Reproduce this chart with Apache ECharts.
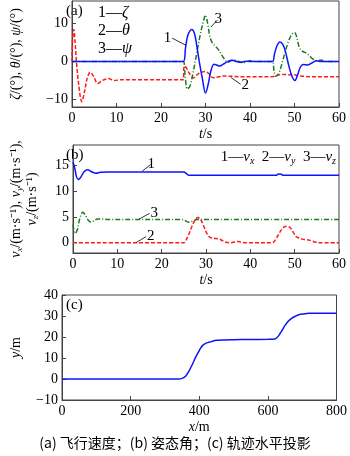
<!DOCTYPE html>
<html><head><meta charset="utf-8">
<script src="https://cdn.jsdelivr.net/npm/echarts@6/dist/echarts.min.js"></script>
<style>html,body{margin:0;padding:0;background:#fff}#c{width:350px;height:456px}</style>
</head><body><div id="c"></div>
<script>
// ---- Panel (a): attitude angles (deg) vs t (s)
const tZeta = [0,25,25.5,26,26.9,27.5,28,28.6,29.3,30.0,30.6,31.2,31.9,32.5,33.2,34,35,36,37,38,39,40,42,45,45.5,46,46.7,47.4,48,48.7,49.4,50.1,50.7,51.3,52,53,54,55,56,57,58,60];
const zeta  = [0,0,3.5,6.8,8.5,7.5,4.5,0,-4.5,-8.3,-6,-2.5,-0.7,-0.9,-1.2,-0.7,0,0.35,0,-0.2,0.1,0,0,0,2.0,4.0,5.2,4.5,2.5,-1,-3.8,-5.0,-3.5,-1.5,-0.8,-0.9,-0.3,0.2,0,0,0,0];
const tPsi = [0,25,25.4,25.9,26.5,27.2,28,28.8,29.5,30,30.5,31,31.6,32.3,33,33.6,34.3,35,35.7,36.5,37.5,38.5,40,42,45,45.4,45.8,46.5,47.3,48,48.7,49.3,50,50.5,51,51.5,52,52.7,53.4,54,55,56,57,58,60];
const psi  = [0,0,-3.5,-7.2,-6.5,-3,2,7,10.5,12.3,10,6.5,4.8,4.0,3.0,1.8,0.6,-0.2,0.2,0.4,0.0,-0.3,0.2,0,0,-2.5,-3.9,-3,0,3,5.5,7,7.7,6.5,4,3,2.6,2.2,1.5,0.8,0.2,0.4,0,0,0];
const tTheta = [0,0.15,0.4,0.7,1.0,1.5,2.2,2.8,3.4,4.1,4.8,5.8,6.8,8.2,9.5,11,25,25.2,25.6,26.3,27.3,28.3,29.9,31,31.7,33,34,36,38,40,45,46,47,48,49,50,51,52,54,56,60];
const theta  = [0,6,8.5,5,0,-6,-10.6,-8,-4.5,-2.8,-3.8,-5.8,-5.0,-4.5,-5,-4.8,-4.8,-1.2,-1.5,-3.0,-4.3,-3.3,-2.6,-3.5,-4.3,-4.0,-3.8,-3.9,-4.0,-4.0,-4.0,-3.7,-3.4,-3.4,-3.5,-3.5,-3.8,-3.9,-4.0,-4.0,-4.0];

// ---- Panel (b): velocities (m/s) vs t (s)
const tVx = [0,0.4,0.8,1.2,1.8,2.5,3.3,4.2,5.2,6.2,8,25,25.5,26,26.5,45.8,46.2,46.6,47,47.4,60];
const vx  = [15.7,14.5,12.8,12.3,12.8,13.8,14.2,13.8,13.5,13.7,13.75,13.75,13.5,13.15,13.1,13.1,13.3,13.35,13.3,13.1,13.1];
const tVz = [0,0.25,0.5,1.0,1.5,2.2,2.9,3.5,4.1,4.8,5.5,6.5,8,25,25.5,26,26.7,27.5,28,60];
const vz  = [3.5,2.2,1.8,2.6,4.6,5.9,5.2,4.3,4.0,4.3,4.6,4.6,4.5,4.5,4.2,4.0,4.1,4.4,4.5,4.5];
const tVy = [0,25,25.5,26.2,27,27.7,28.2,28.8,29.5,30.2,30.8,31.5,32.3,33,33.7,34.5,35.5,36.5,37.2,38,39,45,45.5,46.3,47,47.7,48.3,49,49.7,50.3,51,51.7,52.5,53.3,54,54.7,55.3,60];
const vy  = [0,0,0.5,1.8,3.5,4.6,4.9,4.5,3.2,1.8,1.1,0.9,0.8,0.7,0.4,0.1,0,0.15,0.25,0.1,0,0,0.4,1.5,2.5,3.1,3.2,2.9,2.0,1.2,0.9,0.7,0.6,0.5,0.3,0.1,0,0];

// ---- Panel (c): horizontal trajectory projection
const trackX = [0,340,350,360,370,380,390,400,403,410,420,435,450,470,500,550,600,620,630,640,650,660,670,680,690,705,720,740,800];
const trackY = [0,0,0.3,1.3,3.8,7,10.5,13.5,14.5,16.0,17.1,17.8,18.4,18.6,18.7,18.8,18.9,19,20.3,22.8,25.5,27.6,29.0,29.9,30.6,31.0,31.3,31.35,31.35];

// ---- tick labels
const tTickVals = [0,10,20,30,40,50,60];
const xTickVals = [0,200,400,600,800];
const angTickVals = [-10,0,10];
const velTickVals = [0,5,10,15];
const trkTickVals = [-10,0,10,20,30,40];

const zip = (a,b) => a.map((v,i)=>[v,b[i]]);
const FONT = "'Liberation Serif','Times New Roman',serif";
const BLUE='#0a14ff', RED='#ff1a1a', GREEN='#1e7a1e';
const axisCol = '#444';

function xAx(gi, min, max, ticks, nm){
  return {type:'value', gridIndex:gi, min, max,
    axisLine:{show:true,onZero:false,lineStyle:{color:axisCol,width:1}},
    axisTick:{show:true,inside:true,length:4,lineStyle:{color:axisCol},customValues:ticks},
    splitLine:{show:false},
    axisLabel:{color:'#000',fontFamily:FONT,fontSize:14,margin:4,customValues:ticks},
    name:nm, nameLocation:'middle', nameGap:20,
    nameTextStyle:{color:'#000',fontFamily:FONT,fontSize:14,
      rich:{i:{fontStyle:'italic',fontFamily:FONT,fontSize:14,color:'#000'}}}
  };
}
function yAx(gi, min, max, ticks, nm, gap){
  return {type:'value', gridIndex:gi, min, max,
    axisLine:{show:true,onZero:false,lineStyle:{color:axisCol,width:1}},
    axisTick:{show:true,inside:true,length:4,lineStyle:{color:axisCol},customValues:ticks},
    splitLine:{show:false},
    axisLabel:{color:'#000',fontFamily:FONT,fontSize:14,margin:4,customValues:ticks,
      formatter:v=> v<0 ? '\u2212'+Math.abs(v) : String(v)},
    name:nm, nameLocation:'middle', nameRotate:90, nameGap:gap,
    nameTextStyle:{color:'#000',fontFamily:FONT,fontSize:14,lineHeight:16,
      rich:{i:{fontStyle:'italic',fontFamily:FONT,fontSize:14,color:'#000',lineHeight:16},
            s:{fontStyle:'italic',fontFamily:FONT,fontSize:9,color:'#000',verticalAlign:'bottom',lineHeight:16,padding:[6,0,0,0]},
            n:{fontFamily:FONT,fontSize:14,color:'#000',lineHeight:16}}}
  };
}
function leader(x1,y1,x2,y2,txt){
  return {symbol:['none','none'], silent:true, animation:false,
    lineStyle:{color:'#000',width:0.8,type:'solid'},
    label:{show:true,position:'end',formatter:txt,color:'#000',fontFamily:FONT,fontSize:15,distance:1},
    data:[[{coord:[x1,y1]},{coord:[x2,y2]}]]};
}
function line(xi, data, color, type, extra){
  return Object.assign({type:'line', xAxisIndex:xi, yAxisIndex:xi, data, showSymbol:false,
    smooth:0.35, animation:false, lineStyle:{color, width:1.5, type}, itemStyle:{color}}, extra||{});
}

const gridCommon = {show:true, borderColor:axisCol, borderWidth:1, backgroundColor:'transparent', containLabel:false};

const option = {
  backgroundColor:'#fff',
  animation:false,
  grid:[
    Object.assign({left:62, top:1, width:277, height:106}, gridCommon),
    Object.assign({left:62, top:145, width:277, height:108}, gridCommon),
    Object.assign({left:62, top:295, width:277, height:105}, gridCommon)
  ],
  xAxis:[
    xAx(0, 0, 60, tTickVals, '{i|t}/s'),
    xAx(1, 0, 60, tTickVals, '{i|t}/s'),
    xAx(2, 0, 800, xTickVals, '{i|x}/m')
  ],
  yAxis:[
    yAx(0, -12, 16, angTickVals, '{i|ζ}/(°), {i|θ}/(°), {i|ψ}/(°)', 48),
    yAx(1, -2, 19, velTickVals, '{i|v}{s|x}{n|/(m·s⁻¹), }{i|v}{s|y}{n|/(m·s⁻¹),}\n{i|v}{s|z}{n|/(m·s⁻¹)}', 33),
    yAx(2, -10, 40, trkTickVals, '{i|y}/m', 38)
  ],
  series:[
    line(0, zip(tTheta, theta), RED, [4,2], {markLine: leader(35.7,-4.2,37.9,-6.0,'2')}),
    line(0, zip(tPsi, psi), GREEN, [5,2,1,2], {markLine: leader(31.2,9.1,32.7,11.0,'3')}),
    line(0, zip(tZeta, zeta), BLUE, 'solid', {markLine: leader(25.6,4.3,22.5,6.2,'1')}),
    line(1, zip(tVy, vy), RED, [4,2], {markLine: leader(14.3,0.06,16.5,1.2,'2')}),
    line(1, zip(tVz, vz), GREEN, [5,2,1,2], {markLine: leader(14.9,4.6,17.3,5.7,'3')}),
    line(1, zip(tVx, vx), BLUE, 'solid', {markLine: leader(15.6,13.9,17.5,15.2,'1')}),
    line(2, zip(trackX, trackY), BLUE, 'solid', {smooth:0.3})
  ],
  graphic:[
    {type:'text', left:66, top:4, style:{text:'(a)', font:"15px "+FONT, fill:'#000'}},
    {type:'text', left:98, top:4, style:{text:'1—{i|ζ}\n2—{i|θ}\n3—{i|ψ}', font:"16px "+FONT, fill:'#000', lineHeight:18,
      rich:{i:{fontStyle:'italic', fontFamily:FONT, fontSize:16, lineHeight:18}}}},
    {type:'text', left:66, top:148, style:{text:'(b)', font:"15px "+FONT, fill:'#000'}},
    {type:'text', right:14, top:148, style:{text:'1—{i|v}{s|x}  2—{i|v}{s|y}  3—{i|v}{s|z}', font:"15px "+FONT, fill:'#000', lineHeight:18,
      rich:{i:{fontStyle:'italic', fontFamily:FONT, fontSize:15, lineHeight:18},
            s:{fontStyle:'italic', fontFamily:FONT, fontSize:10, lineHeight:18, verticalAlign:'bottom', padding:[6,0,0,0]}}}},
    {type:'text', left:66, top:298, style:{text:'(c)', font:"15px "+FONT, fill:'#000'}},
    {type:'text', left:'center', top:436, style:{text:'(a) 飞行速度；(b) 姿态角；(c) 轨迹水平投影', font:"14px 'Noto Sans CJK SC', "+FONT, fill:'#000'}}
  ]
};
const chart = echarts.init(document.getElementById('c'), null, {renderer:'canvas'});
chart.setOption(option);
</script></body></html>
